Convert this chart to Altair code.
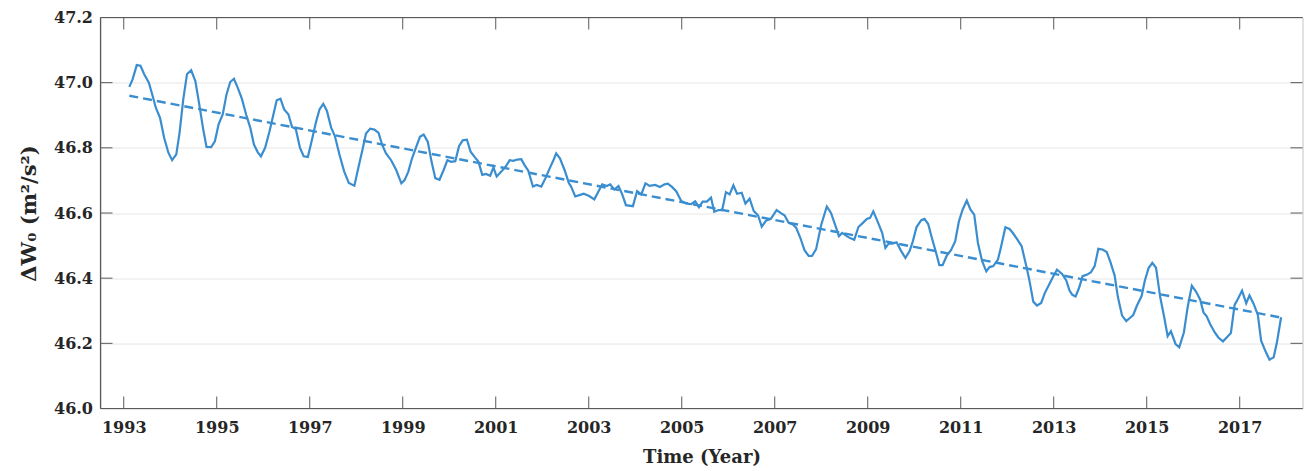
import altair as alt
import pandas as pd

# ---- data ----
years = [
    1993.12, 1993.19, 1993.28, 1993.36, 1993.44, 1993.54, 1993.62, 1993.69, 1993.78, 1993.87, 1993.96,
    1994.04, 1994.13, 1994.20, 1994.28, 1994.36, 1994.45, 1994.54, 1994.63, 1994.71, 1994.78, 1994.88, 1994.96,
    1995.04, 1995.13, 1995.21, 1995.29, 1995.37, 1995.45, 1995.54, 1995.63, 1995.72, 1995.80, 1995.88, 1995.95,
    1996.04, 1996.13, 1996.22, 1996.29, 1996.37, 1996.45, 1996.54, 1996.62, 1996.70, 1996.79, 1996.87, 1996.96,
    1997.04, 1997.14, 1997.21, 1997.29, 1997.37, 1997.46, 1997.54, 1997.64, 1997.74, 1997.84, 1997.96,
    1998.05, 1998.14, 1998.21, 1998.30, 1998.39, 1998.48, 1998.56, 1998.64, 1998.75, 1998.86, 1998.97,
    1999.04, 1999.12, 1999.20, 1999.29, 1999.37, 1999.45, 1999.54, 1999.62, 1999.70, 1999.79, 1999.88, 1999.96,
    2000.04, 2000.13, 2000.21, 2000.29, 2000.38, 2000.46, 2000.54, 2000.63, 2000.71, 2000.79, 2000.88, 2000.95,
    2001.02, 2001.12, 2001.21, 2001.30, 2001.38, 2001.46, 2001.55, 2001.62, 2001.70, 2001.80, 2001.88, 2001.98,
    2002.07, 2002.16, 2002.24, 2002.30, 2002.38, 2002.48, 2002.57, 2002.62, 2002.71, 2002.80, 2002.89,
    2003.00, 2003.12, 2003.29, 2003.39, 2003.46, 2003.55, 2003.64, 2003.72, 2003.80, 2003.95,
    2004.04, 2004.13, 2004.22, 2004.31, 2004.43, 2004.53, 2004.63, 2004.70, 2004.79, 2004.88, 2004.99,
    2005.09, 2005.20, 2005.29, 2005.37, 2005.45, 2005.54, 2005.63, 2005.70, 2005.79, 2005.87, 2005.95,
    2006.03, 2006.11, 2006.19, 2006.29, 2006.37, 2006.46, 2006.55, 2006.64, 2006.72, 2006.81, 2006.92,
    2007.04, 2007.14, 2007.21, 2007.30, 2007.39, 2007.46, 2007.55, 2007.64, 2007.73, 2007.80, 2007.89,
    2008.00, 2008.12, 2008.21, 2008.31, 2008.38, 2008.45, 2008.55, 2008.62, 2008.71, 2008.80, 2008.89, 2008.98,
    2009.05, 2009.12, 2009.22, 2009.31, 2009.38, 2009.45, 2009.52, 2009.62, 2009.72, 2009.81, 2009.90, 2009.97,
    2010.05, 2010.15, 2010.22, 2010.30, 2010.38, 2010.47, 2010.54, 2010.61, 2010.70, 2010.79, 2010.88, 2010.96,
    2011.04, 2011.13, 2011.21, 2011.29, 2011.37, 2011.46, 2011.55, 2011.62, 2011.70, 2011.80, 2011.87, 2011.96,
    2012.05, 2012.13, 2012.23, 2012.31, 2012.41, 2012.48, 2012.56, 2012.64, 2012.73, 2012.81, 2012.91, 2012.98,
    2013.07, 2013.18, 2013.27, 2013.34, 2013.40, 2013.47, 2013.55, 2013.62, 2013.72, 2013.80, 2013.88, 2013.96,
    2014.05, 2014.14, 2014.22, 2014.31, 2014.38, 2014.47, 2014.56, 2014.63, 2014.71, 2014.79, 2014.89, 2014.96,
    2015.04, 2015.12, 2015.20, 2015.29, 2015.38, 2015.45, 2015.52, 2015.62, 2015.70, 2015.80, 2015.88, 2015.97,
    2016.06, 2016.15, 2016.22, 2016.29, 2016.36, 2016.46, 2016.54, 2016.64, 2016.72, 2016.81, 2016.89, 2016.96,
    2017.05, 2017.14, 2017.21, 2017.30, 2017.39, 2017.46, 2017.55, 2017.64, 2017.73, 2017.80, 2017.89,
]
values = [
    46.987, 47.010, 47.054, 47.052, 47.026, 47.000, 46.960, 46.923, 46.892, 46.830, 46.785,
    46.762, 46.780, 46.846, 46.949, 47.026, 47.038, 47.005, 46.928, 46.856, 46.803, 46.802, 46.820,
    46.872, 46.903, 46.964, 47.002, 47.012, 46.985, 46.951, 46.903, 46.862, 46.810, 46.787, 46.774,
    46.800, 46.848, 46.903, 46.946, 46.951, 46.918, 46.903, 46.864, 46.858, 46.800, 46.774, 46.772,
    46.820, 46.882, 46.918, 46.935, 46.913, 46.862, 46.836, 46.779, 46.728, 46.692, 46.684,
    46.742, 46.798, 46.844, 46.859, 46.856, 46.846, 46.808, 46.783, 46.762, 46.732, 46.691,
    46.701, 46.727, 46.768, 46.803, 46.834, 46.841, 46.818, 46.757, 46.707, 46.702, 46.732, 46.762,
    46.757, 46.759, 46.805, 46.823, 46.825, 46.788, 46.773, 46.757, 46.717, 46.720, 46.714, 46.740,
    46.712, 46.727, 46.742, 46.762, 46.760, 46.764, 46.765, 46.747, 46.730, 46.681, 46.686, 46.681,
    46.707, 46.737, 46.762, 46.783, 46.768, 46.732, 46.693, 46.681, 46.651, 46.655, 46.659,
    46.653, 46.642, 46.688, 46.683, 46.688, 46.672, 46.683, 46.657, 46.624, 46.621,
    46.667, 46.657, 46.691, 46.683, 46.686, 46.680, 46.688, 46.690, 46.680, 46.667, 46.637,
    46.629, 46.627, 46.636, 46.618, 46.635, 46.635, 46.647, 46.604, 46.609, 46.609, 46.664,
    46.657, 46.685, 46.659, 46.662, 46.629, 46.644, 46.606, 46.593, 46.558, 46.576, 46.583,
    46.609, 46.599, 46.593, 46.570, 46.565, 46.555, 46.524, 46.486, 46.468, 46.468, 46.489,
    46.564, 46.620, 46.600, 46.559, 46.529, 46.539, 46.529, 46.523, 46.518, 46.557, 46.569, 46.582,
    46.585, 46.605, 46.571, 46.539, 46.493, 46.506, 46.506, 46.510, 46.483, 46.462, 46.483, 46.513,
    46.557, 46.578, 46.582, 46.566, 46.523, 46.478, 46.440, 46.440, 46.469, 46.486, 46.513, 46.574,
    46.610, 46.638, 46.610, 46.595, 46.508, 46.452, 46.421, 46.434, 46.437, 46.457, 46.498, 46.556,
    46.551, 46.537, 46.516, 46.498, 46.437, 46.391, 46.328, 46.316, 46.324, 46.355, 46.383, 46.403,
    46.426, 46.413, 46.393, 46.362, 46.349, 46.344, 46.372, 46.406, 46.411, 46.418, 46.437, 46.490,
    46.488, 46.480, 46.449, 46.408, 46.342, 46.285, 46.268, 46.277, 46.287, 46.316, 46.345, 46.393,
    46.431, 46.447, 46.432, 46.342, 46.277, 46.222, 46.237, 46.198, 46.188, 46.234, 46.311, 46.377,
    46.359, 46.334, 46.295, 46.283, 46.260, 46.234, 46.218, 46.206, 46.218, 46.232, 46.318, 46.336,
    46.362, 46.323, 46.347, 46.321, 46.287, 46.208, 46.177, 46.150, 46.157, 46.203, 46.280,
]
trend_years = [1993.12, 2017.89]
trend_values = [46.960, 46.279]
x_ticks = [1993, 1995, 1997, 1999, 2001, 2003, 2005, 2007, 2009, 2011, 2013, 2015, 2017]
y_ticks = [46.0, 46.2, 46.4, 46.6, 46.8, 47.0, 47.2]

W, H = 1202, 391
BLUE = "#3a8dcf"
FRAME = "#5a5a5a"
TEXT = "#262626"
FONT = "DejaVu Serif"
TICK = 12

line_df = pd.DataFrame({"t": years, "v": values})
trend_df = pd.DataFrame({"t": trend_years, "v": trend_values})
xt_df = pd.DataFrame({"t": x_ticks})
yt_df = pd.DataFrame({"v": y_ticks})
one = pd.DataFrame({"k": [0]})

xscale = alt.Scale(domain=[1992.5, 2018.35], nice=False, zero=False)
yscale = alt.Scale(domain=[46.0, 47.2], nice=False, zero=False)
xaxis = alt.Axis(title="Time (Year)", values=x_ticks, format="d", grid=False,
                 ticks=False, domain=False, labelPadding=11, titlePadding=13, titleFontSize=18)
yaxis = alt.Axis(title="ΔW₀ (m²/s²)", values=y_ticks, format=".1f", grid=True,
                 ticks=False, domain=False, labelPadding=8, titlePadding=14, titleFontSize=21)
X = alt.X("t:Q", scale=xscale, axis=xaxis)
Y = alt.Y("v:Q", scale=yscale, axis=yaxis)

main = alt.Chart(line_df).mark_line(color=BLUE, strokeWidth=2.2).encode(x=X, y=Y)

trend = alt.Chart(trend_df).mark_line(color=BLUE, strokeWidth=2.4, strokeDash=[9, 5]).encode(x=X, y=Y)

xt_bottom = alt.Chart(xt_df).mark_rule(color=FRAME, strokeWidth=1).encode(
    x=X, y=alt.value(H), y2=alt.value(H - TICK))
xt_top = alt.Chart(xt_df).mark_rule(color=FRAME, strokeWidth=1).encode(
    x=X, y=alt.value(0), y2=alt.value(TICK))
yt_left = alt.Chart(yt_df).mark_rule(color=FRAME, strokeWidth=1).encode(
    y=Y, x=alt.value(0), x2=alt.value(TICK))
yt_right = alt.Chart(yt_df).mark_rule(color=FRAME, strokeWidth=1).encode(
    y=Y, x=alt.value(W), x2=alt.value(W - TICK))

# box edges: left, top, bottom dark; right edge stays light (view stroke)
edge_left = alt.Chart(one).mark_rule(color=FRAME, strokeWidth=1.2).encode(
    x=alt.value(0), y=alt.value(0), y2=alt.value(H))
edge_top = alt.Chart(one).mark_rule(color=FRAME, strokeWidth=1.2).encode(
    y=alt.value(0), x=alt.value(0), x2=alt.value(W))
edge_bottom = alt.Chart(one).mark_rule(color=FRAME, strokeWidth=1.2).encode(
    y=alt.value(H), x=alt.value(0), x2=alt.value(W))

chart = alt.layer(main, trend, xt_bottom, xt_top, yt_left, yt_right,
                  edge_left, edge_top, edge_bottom).properties(
    width=W, height=H,
    padding={"left": 10.5, "top": 1.5, "right": 0, "bottom": 0},
    background="white",
).configure_view(
    stroke="#c4c4c4", strokeWidth=1
).configure_axis(
    labelFont=FONT, titleFont=FONT, labelFontWeight="bold", titleFontWeight="bold",
    labelFontSize=16, labelColor=TEXT, titleColor=TEXT,
    gridColor="#e6e6e6", gridWidth=1,
)

chart.save("out.html", embed_options={"renderer": "svg", "actions": False})
